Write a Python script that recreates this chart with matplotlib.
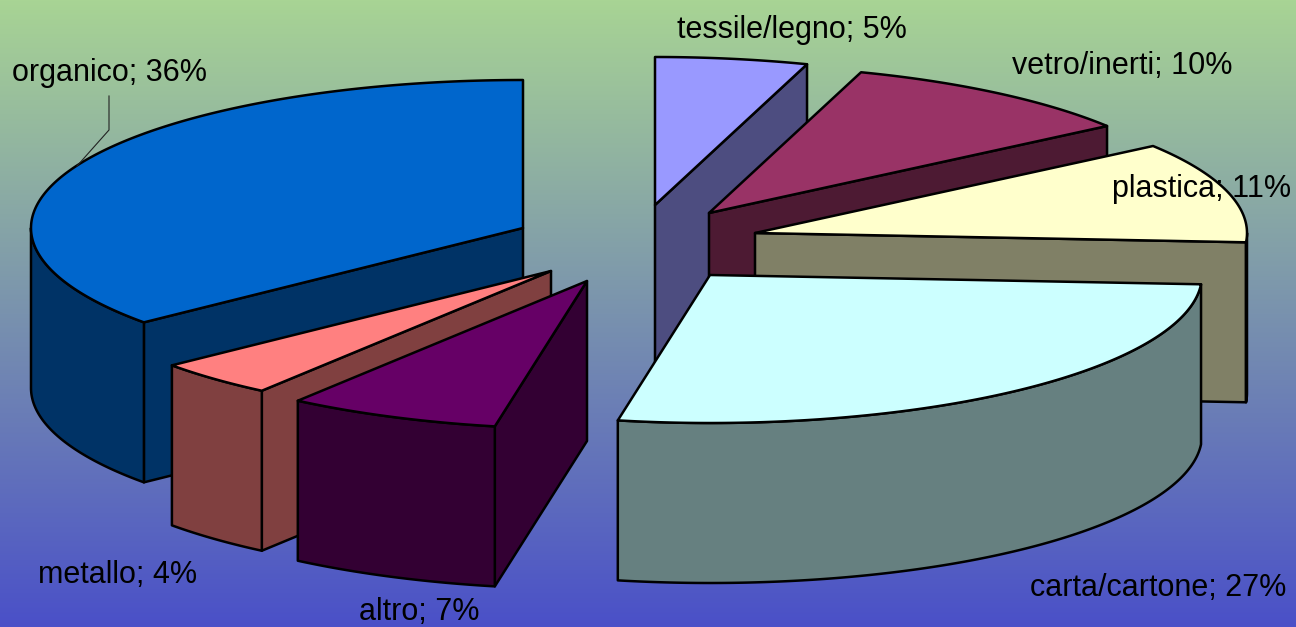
"""Torta 3D esplosa: composizione dei rifiuti"""

import numpy as np
import matplotlib.pyplot as plt
from matplotlib.patches import Polygon

# Dati, in senso orario a partire dalle ore 12
categories = ["tessile/legno", "vetro/inerti", "plastica", "carta/cartone",
              "altro", "metallo", "organico"]
values = [5, 10, 11, 27, 7, 4, 36]

# Stile
top_colors = ["#9999FF", "#993366", "#FFFFCC", "#CCFFFF",
              "#660066", "#FF8080", "#0066CC"]
side_colors = ["#4D4D80", "#4D1A33", "#808066", "#668080",
               "#330033", "#804040", "#003366"]
apex_x = [655, 709, 755, 710, 587, 551, 523]
apex_y = [205, 213, 233, 275, 281, 271, 228]
label_x = [792, 1122, 1202, 1158, 419, 118, 110]
label_y = [30, 66, 189, 588, 612, 575, 73]
draw_order = [0, 1, 2, 3, 6, 5, 4]

RX, RY, DEPTH = 492, 148, 160
WIDTH, HEIGHT = 1296, 627
LINE = 1.8

plt.rcParams["font.family"] = ["Liberation Sans", "DejaVu Sans"]


def rim_point(cx, cy, theta):
    """Punto sul bordo dell'ellisse, theta in gradi da ore 12 in senso orario"""
    rad = np.radians(theta)
    return cx + RX * np.sin(rad), cy - RY * np.cos(rad)


def arc(cx, cy, start, end):
    thetas = np.linspace(start, end, max(int(abs(end - start)) * 2, 2))
    return np.column_stack(rim_point(cx, cy, thetas))


def face(ax, pts, color):
    ax.add_patch(Polygon(pts, closed=True, facecolor=color, edgecolor="black",
                         linewidth=LINE, joinstyle="round"))


def draw_slice(ax, cx, cy, start, end, top, side):
    drop = np.array([0, DEPTH])
    apex = np.array([cx, cy])

    # facce radiali visibili dal davanti
    for theta, visible in ((start, np.sin(np.radians(start)) < -1e-6),
                           (end, np.sin(np.radians(end)) > 1e-6)):
        if visible:
            p = np.array(rim_point(cx, cy, theta))
            face(ax, [apex, p, p + drop, apex + drop], side)

    # parete esterna, solo la parte anteriore (90-270 gradi)
    lo, hi = max(start, 90), min(end, 270)
    if lo < hi:
        edge = arc(cx, cy, lo, hi)
        face(ax, np.vstack([edge, (edge + drop)[::-1]]), side)

    # superficie superiore
    face(ax, np.vstack([apex, arc(cx, cy, start, end)]), top)


fig = plt.figure(figsize=(WIDTH / 100, HEIGHT / 100), dpi=100)
ax = fig.add_axes([0, 0, 1, 1])
ax.set_xlim(0, WIDTH)
ax.set_ylim(HEIGHT, 0)
ax.axis("off")

# sfondo sfumato verde -> blu
grad = np.linspace(0, 1, HEIGHT)[:, None, None]
green = np.array([168, 212, 148]) / 255
blue = np.array([74, 80, 200]) / 255
ax.imshow(green + (blue - green) * grad, extent=(0, WIDTH, HEIGHT, 0),
          aspect="auto", zorder=0)

bounds = np.cumsum([0] + values) * 3.6
for i in draw_order:
    draw_slice(ax, apex_x[i], apex_y[i], bounds[i], bounds[i + 1],
               top_colors[i], side_colors[i])

# linea guida di "organico"
ax.plot([109, 109, 77], [96, 130, 166], color="#222222", linewidth=0.8)

for name, val, x, y in zip(categories, values, label_x, label_y):
    ax.text(x, y, f"{name}; {val}%", ha="center", va="center",
            fontsize=22, color="black")

fig.savefig("out.png", dpi=100)
plt.close(fig)
